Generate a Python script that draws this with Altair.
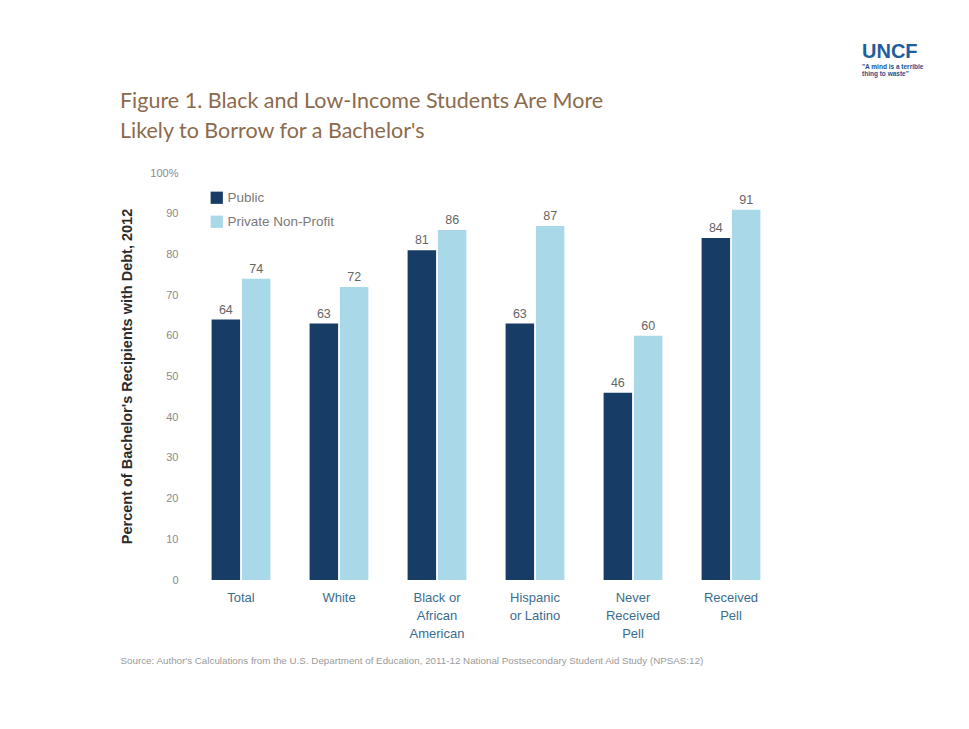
import altair as alt
import pandas as pd

categories = ["Total", "White", "Black or\nAfrican\nAmerican", "Hispanic\nor Latino", "Never\nReceived\nPell", "Received\nPell"]
public = [64, 63, 81, 63, 46, 84]
private = [74, 72, 86, 87, 60, 91]
series = ["Public", "Private Non-Profit"]
title_lines = ["Figure 1. Black and Low-Income Students Are More", "Likely to Borrow for a Bachelor's"]
logo_text = ["UNCF", "\"A mind is a terrible", "thing to waste\""]

rows = []
for c, a, b in zip(categories, public, private):
    rows.append({"cat": c, "sector": series[0], "value": a})
    rows.append({"cat": c, "sector": series[1], "value": b})
df = pd.DataFrame(rows)

x = alt.X("cat:N", sort=categories,
          scale=alt.Scale(paddingInner=0.4, paddingOuter=0.2),
          axis=alt.Axis(title="Source: Author's Calculations from the U.S. Department of Education, 2011-12 National Postsecondary Student Aid Study (NPSAS:12)",
                        titleFontSize=9.8, titleColor="#9a9a9a", titleFontWeight="normal",
                        titleAlign="left", titleX=-72, titleY=75, titleFont="Liberation Sans",
                        labelExpr="split(datum.label, '\\n')", labelAngle=0,
                        labelColor="#3b6d8e", labelFontSize=13, labelLineHeight=18,
                        labelFont="Liberation Sans", labelPadding=11,
                        domain=False, ticks=False))
xo = alt.XOffset("sector:N", sort=series, scale=alt.Scale(paddingInner=0.06))
y = alt.Y("value:Q", scale=alt.Scale(domain=[0, 100]),
          axis=alt.Axis(title="Percent of Bachelor's Recipients with Debt, 2012",
                        titleFontSize=14.5, titleColor="#2b2b2b", titleFontWeight="bold",
                        titleFont="Liberation Sans", titleX=-58, titleY=203,
                        values=list(range(0, 101, 10)),
                        labelExpr="datum.value == 100 ? '100%' : datum.label",
                        labelColor="#8a8a8a", labelFontSize=11, labelPadding=14,
                        labelFont="Liberation Sans",
                        domain=False, ticks=False, grid=False))

color = alt.Color("sector:N", sort=series,
                  scale=alt.Scale(domain=series, range=["#173d66", "#a9d9e8"]),
                  legend=alt.Legend(title=None, orient="none", legendX=18, legendY=18,
                                    symbolType="square", symbolSize=150, symbolStrokeWidth=0,
                                    labelColor="#7a7a7a", labelFontSize=13.5,
                                    labelFont="Liberation Sans", rowPadding=9))

bars = alt.Chart(df).mark_bar().encode(x=x, xOffset=xo, y=y, color=color)
labels = alt.Chart(df).mark_text(dy=-10, fontSize=12.5, color="#666666", font="Liberation Sans").encode(
    x=alt.X("cat:N", sort=categories), xOffset=alt.XOffset("sector:N", sort=series),
    y="value:Q", text="value:Q")

title = alt.Chart(pd.DataFrame({"t": title_lines, "yy": [-65, -35]})).mark_text(
    align="left", baseline="alphabetic", font="Lato", fontSize=21.5,
    color="#8c6a4c").encode(x=alt.value(-72), y=alt.Y("yy:Q", scale=None), text="t:N")
logo = alt.Chart(pd.DataFrame({"t": [logo_text[0]]})).mark_text(
    align="left", baseline="alphabetic", font="Liberation Sans", fontWeight="bold",
    fontSize=20, color="#1f5e9c").encode(x=alt.value(670), y=alt.value(-115), text="t:N")
tag = alt.Chart(pd.DataFrame({"t": logo_text[1:], "yy": [-104, -97]})).mark_text(
    align="left", baseline="alphabetic", font="Liberation Sans", fontWeight="bold",
    fontSize=6.5, color="#1f4f8c").encode(x=alt.value(670), y=alt.Y("yy:Q", scale=None), text="t:N")

chart = alt.layer(bars, labels, title, logo, tag).properties(
    width=588, height=407,
    autosize=alt.AutoSizeParams(type="none"),
    padding={"left": 192, "top": 173, "right": 189, "bottom": 149},
    background="white",
).configure_view(stroke=None)

chart.save("out.html", embed_options={"renderer": "svg", "actions": False})
